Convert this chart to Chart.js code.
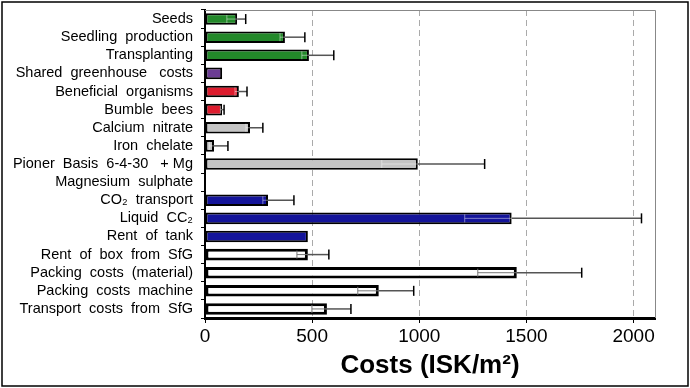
<!DOCTYPE html>
<html>
<head>
<meta charset="UTF-8">
<title>Costs</title>
<style>
  body { margin: 0; background: #fff; }
  .chartBox { width: 690px; height: 388px; }
</style>
</head>
<body>
<div class="chartBox"><canvas id="myChart"></canvas></div>
<script src="https://cdn.jsdelivr.net/npm/chart.js"></script>
<script>
// ---------------- data ----------------
const categories = [
  'Seeds', 'Seedling  production', 'Transplanting', 'Shared  greenhouse   costs',
  'Beneficial  organisms', 'Bumble  bees', 'Calcium  nitrate', 'Iron  chelate',
  'Pioner  Basis  6-4-30   + Mg', 'Magnesium  sulphate', 'CO\u2082  transport',
  'Liquid  CC\u2082', 'Rent  of  tank', 'Rent  of  box  from  SfG',
  'Packing  costs  (material)', 'Packing  costs  machine', 'Transport  costs  from  SfG'
];
const costs   = [150, 373, 485, 80, 158, 80, 210, 42, 993, 3, 294, 1431, 480, 480, 1455, 811, 569];
const errLow  = [102, 350, 452, null, 140, 72, 191, 20, 825, null, 270, 1212, null, 429, 1273, 713, 499];
const errHigh = [190, 466, 601, null, 196, 89, 270, 107, 1305, null, 415, 2037, null, 578, 1758, 974, 681];
const xTicks  = [0, 500, 1000, 1500, 2000];

// colours per bar group
const green = '#23892a', purple = '#6b3c93', red = '#dd1c2e', grey = '#c4c4c4', blue = '#14149a', white = '#ffffff';
const barColors = [green, green, green, purple, red, red, grey, grey, grey, grey,
                   blue, blue, blue, white, white, white, white];
const borderWidths = barColors.map(c => c === white ? 3 : 2);

// frame + plot box
const framePlugin = {
  id: 'frame',
  beforeDatasetsDraw(chart) {
    const a = chart.chartArea, ctx = chart.ctx;
    ctx.save();
    ctx.strokeStyle = '#888';
    ctx.lineWidth = 1;
    ctx.beginPath();
    ctx.moveTo(a.left, a.top + 0.5);
    ctx.lineTo(a.right + 0.5, a.top + 0.5);
    ctx.lineTo(a.right + 0.5, a.bottom);
    ctx.stroke();
    ctx.restore();
  },
  afterDraw(chart) {
    const ctx = chart.ctx;
    ctx.save();
    ctx.strokeStyle = '#000';
    ctx.lineWidth = 1.5;
    ctx.strokeRect(2, 2, chart.width - 4, chart.height - 4);
    ctx.restore();
  }
};

// error bars
const errorPlugin = {
  id: 'errorBars',
  afterDatasetsDraw(chart) {
    const ctx = chart.ctx;
    const xs = chart.scales.x, ys = chart.scales.y;
    ctx.save();
    costs.forEach((v, i) => {
      if (errHigh[i] == null) return;
      const y = ys.getPixelForValue(i);
      const xv = xs.getPixelForValue(v);
      const xl = xs.getPixelForValue(errLow[i]);
      const xh = xs.getPixelForValue(errHigh[i]);
      // lower part inside the bar
      ctx.strokeStyle = barColors[i] === white ? '#777' : 'rgba(255,255,255,0.45)';
      ctx.lineWidth = 1;
      ctx.beginPath();
      ctx.moveTo(xl, y); ctx.lineTo(xv, y);
      ctx.moveTo(xl, y - 4); ctx.lineTo(xl, y + 4);
      ctx.stroke();
      // upper whisker
      ctx.strokeStyle = '#555';
      ctx.lineWidth = 1.5;
      ctx.beginPath();
      ctx.moveTo(xv, y); ctx.lineTo(xh, y);
      ctx.stroke();
      ctx.strokeStyle = '#000';
      ctx.lineWidth = 1.5;
      ctx.beginPath();
      ctx.moveTo(xh, y - 5); ctx.lineTo(xh, y + 5);
      ctx.stroke();
    });
    ctx.restore();
  }
};

const config = {
  type: 'bar',
  data: {
    labels: categories,
    datasets: [{
      data: costs,
      backgroundColor: barColors,
      borderColor: '#000',
      borderWidth: borderWidths,
      borderSkipped: false,
      barPercentage: 0.64,
      categoryPercentage: 1
    }]
  },
  options: {
    indexAxis: 'y',
    responsive: true,
    maintainAspectRatio: false,
    animation: false,
    layout: { padding: { top: 10, right: 35, left: 5, bottom: 7 } },
    plugins: { legend: { display: false }, tooltip: { enabled: false } },
    scales: {
      x: {
        min: 0, max: 2100,
        afterBuildTicks(scale) { scale.ticks = xTicks.map(v => ({ value: v })); },
        grid: { color: '#aaa', tickColor: '#000', tickLength: 5, tickBorderDash: [] },
        border: { color: '#000', width: 3, dash: [6, 4] },
        ticks: {
          color: '#000', font: { family: 'Liberation Sans', size: 19 }, padding: 2, maxRotation: 0,
          callback: v => String(v)
        },
        title: {
          display: true, text: 'Costs (ISK/m\u00b2)', color: '#000',
          font: { family: 'Liberation Sans', size: 26, weight: 'bold' }, padding: { top: 0, bottom: 0 }
        }
      },
      y: {
        afterFit(scale) { scale.width = 200; scale.paddingTop = 0; scale.paddingBottom = 0; },
        grid: { drawOnChartArea: false, tickColor: '#000', tickLength: 4, offset: true },
        border: { color: '#000', width: 2 },
        ticks: { color: '#000', font: { family: 'Liberation Sans', size: 14.5 }, padding: 8, autoSkip: false }
      }
    }
  },
  plugins: [framePlugin, errorPlugin]
};

const myChart = new Chart(document.getElementById('myChart'), config);
</script>
</body>
</html>
